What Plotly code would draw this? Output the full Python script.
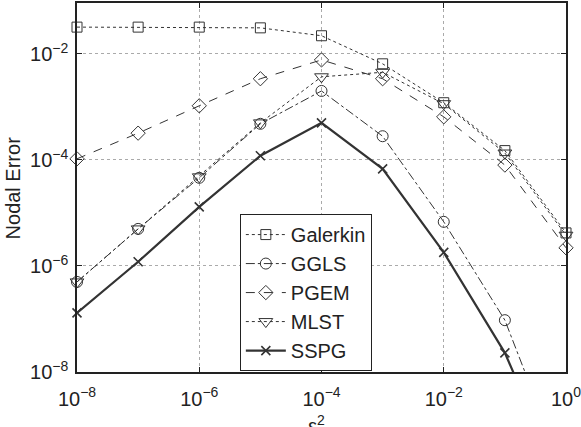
import plotly.graph_objects as go

eps2 = [1e-8, 1e-7, 1e-6, 1e-5, 1e-4, 1e-3, 1e-2, 1e-1, 1e0]
galerkin = [3.2e-2, 3.2e-2, 3.2e-2, 3.1e-2, 2.2e-2, 6.5e-3, 1.2e-3, 1.5e-4, 4.2e-6]
ggls = [5.0e-7, 5.0e-6, 4.6e-5, 4.8e-4, 2.0e-3, 2.8e-4, 6.8e-6, 9.5e-8, 1.0e-10]
pgem = [1.05e-4, 3.2e-4, 1.05e-3, 3.4e-3, 7.7e-3, 3.4e-3, 6.5e-4, 8.0e-5, 2.2e-6]
mlst = [5.0e-7, 5.0e-6, 4.8e-5, 5.0e-4, 3.7e-3, 4.5e-3, 1.15e-3, 1.35e-4, 3.8e-6]
sspg = [1.3e-7, 1.2e-6, 1.3e-5, 1.2e-4, 5.0e-4, 6.8e-5, 1.8e-6, 2.3e-8, 5.0e-11]

x_tickvals = [1e-8, 1e-6, 1e-4, 1e-2, 1e0]
x_ticktext = ["10<sup>−8</sup>", "10<sup>−6</sup>", "10<sup>−4</sup>", "10<sup>−2</sup>", "10<sup>0</sup>"]
y_tickvals = [1e-8, 1e-6, 1e-4, 1e-2]
y_ticktext = ["10<sup>−8</sup>", "10<sup>−6</sup>", "10<sup>−4</sup>", "10<sup>−2</sup>"]

FONT = "Liberation Sans, Arial, sans-serif"
LC = "#333333"

series = [
    ("Galerkin", galerkin, "square-open", "dot", 1, 10),
    ("GGLS", ggls, "circle-open", "dashdot", 1, 11),
    ("PGEM", pgem, "diamond-open", "dash", 1, 11),
    ("MLST", mlst, "triangle-down-open", "dot", 1, 12),
    ("SSPG", sspg, "x-thin-open", "solid", 2.2, 9),
]

fig = go.Figure()
for i, (name, ys, sym, dash, lw, ms) in enumerate(series):
    fig.add_trace(go.Scatter(
        x=eps2, y=ys, name=name, mode="lines+markers",
        line=dict(color=LC, width=lw, dash=dash),
        marker=dict(symbol=sym, size=ms, color=LC,
                    line=dict(color=LC, width=1.6 if name == "SSPG" else 1)),
        cliponaxis=False,
    ))

axis_common = dict(
    type="log", showline=True, linecolor="#222", linewidth=1.5, mirror="ticks",
    ticks="inside", ticklen=5, tickcolor="#222", tickwidth=1,
    showgrid=True, gridcolor="#aaaaaa", griddash="dot", gridwidth=1,
    zeroline=False, tickfont=dict(family=FONT, size=20, color="#222"),
    ticklabeloverflow="allow", automargin=False,
)

fig.update_layout(
    width=581, height=427,
    margin=dict(l=77, r=15, t=3, b=55),
    paper_bgcolor="white", plot_bgcolor="white",
    font=dict(family=FONT, size=20, color="#222"),
    xaxis=dict(range=[-8, 0], tickvals=x_tickvals, ticktext=x_ticktext,
               ticklabelstandoff=8, **axis_common),
    yaxis=dict(range=[-8, -1.04], tickvals=y_tickvals, ticktext=y_ticktext,
               ticklabelstandoff=3, **axis_common),
    legend=dict(x=0.333, y=0.428, xanchor="left", yanchor="top",
                bgcolor="white", bordercolor="#222", borderwidth=1,
                font=dict(family=FONT, size=20, color="#222"),
                itemwidth=40, tracegroupgap=0),
    showlegend=True,
    annotations=[
        dict(text="ε<sup>2</sup>", xref="paper", yref="paper", x=0.49, y=-0.103,
             xanchor="center", yanchor="top", showarrow=False,
             font=dict(family=FONT, size=20, color="#222")),
        dict(text="Nodal Error", xref="paper", yref="paper", x=-0.131, y=0.5,
             xanchor="center", yanchor="middle", textangle=-90, showarrow=False,
             font=dict(family=FONT, size=20, color="#222")),
    ],
)

fig.write_html("out.html")
